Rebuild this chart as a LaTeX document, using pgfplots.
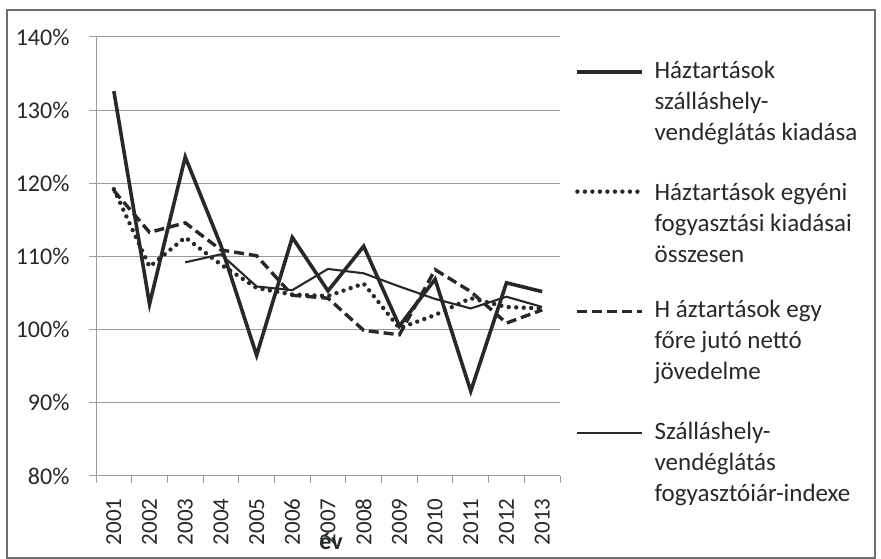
\documentclass[border=0pt]{standalone}
\usepackage{fontspec}
\setmainfont{Carlito}
\usepackage{pgfplots}
\pgfplotsset{compat=1.18}
\definecolor{ink}{HTML}{262A26}
\definecolor{gridc}{HTML}{9A9A9A}
\definecolor{framec}{HTML}{707070}
\begin{document}
\begin{tikzpicture}[x=1bp,y=1bp]
\useasboundingbox (0,0) rectangle (881,559);
\draw[framec, line width=1.4bp] (7,1) rectangle (875,549);
\begin{axis}[
  at={(96bp,83bp)}, anchor=south west,
  width=464bp, height=439bp, scale only axis,
  xmin=0.5, xmax=13.5, ymin=80, ymax=140,
  axis x line*=bottom, axis y line*=left,
  axis line style={gridc, line width=1bp},
  /pgf/number format/assume math mode=true,
  ytick={80,90,...,140},
  yticklabel={\pgfmathprintnumber{\tick}\%},
  yticklabel style={font=\fontsize{24bp}{24bp}\selectfont, text=ink},
  yticklabel shift=16bp,
  tick align=outside,
  major tick length=7bp,
  minor tick length=7bp,
  major y tick style={gridc, line width=1bp},
  major x tick style={draw=none},
  minor x tick style={gridc, line width=1bp},
  ymajorgrids,
  major grid style={gridc, line width=1bp},
  xtick={1,...,13},
  xticklabels={2001,2002,2003,2004,2005,2006,2007,2008,2009,2010,2011,2012,2013},
  minor xtick={0.5,1.5,...,13.5},
  xticklabel style={rotate=90, anchor=east, font=\fontsize{23bp}{23bp}\selectfont, text=ink},
  xticklabel shift=12bp,
  xlabel={\bfseries év},
  xlabel style={at={(axis description cs:0.5,0)}, anchor=center, yshift=-65bp, xshift=3bp, font=\fontsize{24bp}{24bp}\selectfont, text=ink},
  legend cell align=left,
  legend image code/.code={\draw[#1] (0bp,31bp) -- (65bp,31bp);},
  legend style={at={(1,1)}, anchor=north west, xshift=15bp, yshift=-24bp,
    draw=none, fill=none, inner sep=0pt, column sep=10bp, row sep=38bp,
    nodes={inner sep=0pt, text depth=},
    cells={anchor=west, align=left},
    font=\fontsize{25bp}{31bp}\selectfont, text=ink},
]
\addplot[ink, line width=3.6bp, line join=miter] coordinates {
 (1,132.6) (2,103.5) (3,123.6) (4,111.5) (5,96.5) (6,112.6) (7,105.3)
 (8,111.4) (9,100.5) (10,106.9) (11,91.6) (12,106.4) (13,105.2)};
\addlegendentry{Háztartások\\szálláshely-\\vendéglátás kiadása}
\addplot[ink, line width=4.4bp, line cap=round, dash pattern=on 0bp off 7.5bp] coordinates {
 (1,119.2) (2,108.6) (3,112.6) (4,108.9) (5,105.7) (6,104.8) (7,104.6)
 (8,106.3) (9,100.2) (10,102.0) (11,104.3) (12,103.1) (13,102.9)};
\addlegendentry{Háztartások egyéni\\fogyasztási kiadásai\\összesen}
\addplot[ink, line width=3.4bp, dash pattern=on 10bp off 5bp] coordinates {
 (1,119.0) (2,113.3) (3,114.6) (4,110.9) (5,110.1) (6,104.7) (7,104.3)
 (8,99.9) (9,99.3) (10,108.2) (11,105.2) (12,100.9) (13,102.7)};
\addlegendentry{H áztartások egy\\főre jutó nettó\\jövedelme}
\addplot[ink, line width=2.1bp] coordinates {
 (3,109.2) (4,110.3) (5,105.9) (6,105.4) (7,108.3)
 (8,107.7) (9,105.9) (10,104.2) (11,102.9) (12,104.5) (13,103.1)};
\addlegendentry{Szálláshely-\\vendéglátás\\fogyasztóiár-indexe}
\end{axis}
\end{tikzpicture}
\end{document}
